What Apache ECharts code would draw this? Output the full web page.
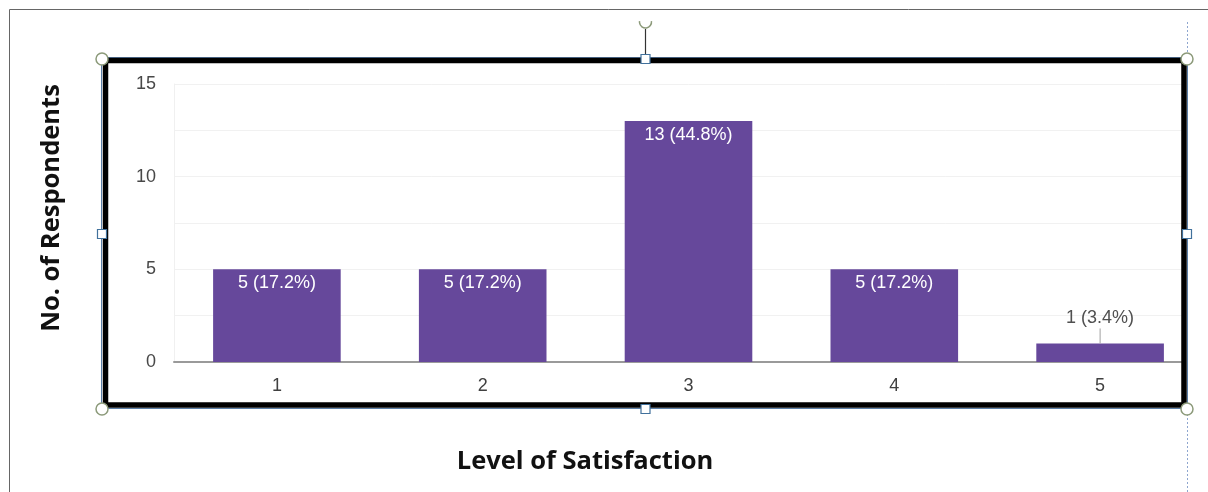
<!DOCTYPE html>
<html>
<head>
<meta charset="utf-8">
<script src="https://cdn.jsdelivr.net/npm/echarts@6/dist/echarts.min.js"></script>
<style>
  html, body { margin: 0; padding: 0; background: #fff; }
  #chart { width: 1208px; height: 492px; }
</style>
</head>
<body>
<div id="chart"></div>
<script>
// Satisfaction ratings: number of respondents per level
const levels = ['1', '2', '3', '4', '5'];
const respondents = [5, 5, 13, 5, 1];
const yTicks = [0, 5, 10, 15];
const xTitle = 'Level of Satisfaction';
const yTitle = 'No. of Respondents';

const total = respondents.reduce((a, b) => a + b, 0);
const pctText = v => (v / total * 100).toFixed(1) + '%';
const INSIDE_MIN = 2; // bars shorter than this get their label above, with a leader

const barData = respondents.map(v => ({
  value: v,
  label: v >= INSIDE_MIN
    ? { position: 'insideTop', distance: 5, color: '#ffffff' }
    : { position: 'top', distance: 16, color: '#505050' }
}));

const chart = echarts.init(document.getElementById('chart'), null, { renderer: 'canvas' });

const handleCircle = (x, y) => ({
  type: 'circle', shape: { cx: x, cy: y, r: 6 },
  style: { fill: '#ffffff', stroke: '#8c9a7a', lineWidth: 1.5 }, z: 110
});
const handleSquare = (x, y) => ({
  type: 'rect', shape: { x: x - 4.5, y: y - 4.5, width: 9, height: 9 },
  style: { fill: '#ffffff', stroke: '#41719c', lineWidth: 1.2 }, z: 110
});

const titleFont = 'bold 25.5px "Open Sans", Lato, sans-serif';
const smallFont = 'Liberation Sans, Arial, sans-serif';

chart.setOption({
  animation: false,
  backgroundColor: '#ffffff',
  grid: { left: 174, right: 5, top: 84, bottom: 130, containLabel: false },
  xAxis: {
    type: 'category',
    data: levels,
    boundaryGap: true,
    axisLine: { show: true, lineStyle: { color: '#9a9a9a', width: 2 } },
    axisTick: { show: false },
    axisLabel: { color: '#404040', fontFamily: smallFont, fontSize: 18, margin: 15 }
  },
  yAxis: {
    type: 'value',
    min: 0, max: 15, interval: 2.5,
    axisLine: { show: true, lineStyle: { color: '#f0f0f0', width: 1 } },
    axisTick: { show: false },
    splitLine: { show: true, lineStyle: { color: '#f1f1f1', width: 1 } },
    axisLabel: {
      color: '#484848', fontFamily: smallFont, fontSize: 18, margin: 18,
      formatter: v => (yTicks.includes(v) ? String(v) : '')
    }
  },
  series: [
    {
      type: 'bar',
      data: barData,
      barWidth: '62%',
      itemStyle: { color: '#66489b' },
      label: {
        show: true,
        fontFamily: smallFont,
        fontSize: 18,
        formatter: p => p.value + ' (' + pctText(p.value) + ')'
      }
    },
    {
      // short leader line joining an outside label to its bar
      type: 'custom',
      data: respondents.map((v, i) => [i, v]),
      silent: true,
      z: 3,
      renderItem: (params, api) => {
        const v = api.value(1);
        if (v >= INSIDE_MIN) return null;
        const p = api.coord([api.value(0), v]);
        return {
          type: 'line',
          shape: { x1: p[0], y1: p[1], x2: p[0], y2: p[1] - 15 },
          style: { stroke: '#a0a0a0', lineWidth: 1 }
        };
      }
    }
  ],
  graphic: {
    elements: [
      // page frame
      { type: 'line', shape: { x1: 9.5, y1: 9.5, x2: 1208, y2: 9.5 }, style: { stroke: '#666666', lineWidth: 1 }, z: 100 },
      { type: 'line', shape: { x1: 9.5, y1: 9.5, x2: 9.5, y2: 492 }, style: { stroke: '#666666', lineWidth: 1 }, z: 100 },
      // area right of the chart box
      { type: 'rect', shape: { x: 1186, y: 62, width: 22, height: 344 }, style: { fill: '#ffffff' }, z: 100 },
      // dotted alignment guide
      { type: 'line', shape: { x1: 1187.5, y1: 22, x2: 1187.5, y2: 492 }, style: { stroke: '#8ea6cf', lineWidth: 1, lineDash: [2, 2] }, z: 100 },
      // chart box border
      { type: 'rect', shape: { x: 101.5, y: 57.5, width: 1086, height: 351 }, style: { fill: null, stroke: '#5b7fa8', lineWidth: 1 }, z: 101 },
      { type: 'rect', shape: { x: 105.5, y: 60.5, width: 1078.5, height: 344.5 }, style: { fill: null, stroke: '#000000', lineWidth: 5.5 }, z: 102 },
      // rotation handle
      { type: 'line', shape: { x1: 645.5, y1: 29, x2: 645.5, y2: 55 }, style: { stroke: '#333333', lineWidth: 1.2 }, z: 105 },
      { type: 'arc', shape: { cx: 645.5, cy: 22, r: 6, startAngle: -0.15, endAngle: Math.PI + 0.15, clockwise: true }, style: { fill: null, stroke: '#8c9a7a', lineWidth: 1.5 }, z: 105 },
      handleCircle(102, 59), handleCircle(1187, 59), handleCircle(102, 409), handleCircle(1187, 409),
      handleSquare(645.5, 59), handleSquare(102, 234), handleSquare(1187, 234), handleSquare(645.5, 409),
      // axis titles
      {
        type: 'text', x: 52, y: 208, rotation: Math.PI / 2, z: 100,
        style: { text: yTitle, fill: '#111111', font: titleFont, align: 'center', verticalAlign: 'middle' }
      },
      {
        type: 'text', x: 585, y: 462, z: 100,
        style: { text: xTitle, fill: '#111111', font: titleFont, align: 'center', verticalAlign: 'middle' }
      }
    ]
  }
});
</script>
</body>
</html>
